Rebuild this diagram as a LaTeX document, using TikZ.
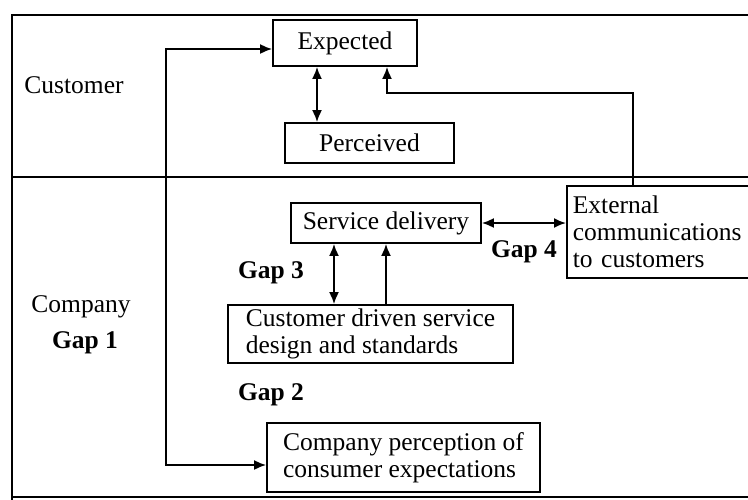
\documentclass[tikz,border=0pt]{standalone}
\usepackage{fontspec}
\setmainfont{Liberation Serif}
\usetikzlibrary{arrows.meta}

\begin{document}
\begin{tikzpicture}[x=1pt,y=1pt,yscale=-1,xscale=1,
    box/.style={draw,line width=1.8,inner sep=0pt,font=\fontsize{25.5}{27}\selectfont},
    lbl/.style={inner sep=0.75pt,font=\fontsize{25.5}{27}\selectfont},
    gaplbl/.style={inner sep=0.75pt,font=\fontsize{25.5}{27}\selectfont\bfseries},
    arr/.style={line width=1.8,-{Latex[length=12pt,width=10pt]}},
    dbl/.style={line width=1.8,{Latex[length=12pt,width=10pt]}-{Latex[length=12pt,width=10pt]}}]
    \clip (0,0) rectangle (748,499);

    %Frame and divider
    \draw [line width=1.8] (12,505) -- (12,15) -- (760,15) ;
    \draw [line width=1.8] (12,177) -- (760,177) ;
    \draw [line width=1.2] (12,497) -- (760,497) ;

    %Boxes
    \node [box,minimum width=144,minimum height=46] (exp) at (345,43) {Expected};
    \node [box,minimum width=169,minimum height=40] (per) at (369.5,143) {Perceived};
    \node [box,minimum width=190,minimum height=40] (svc) at (386,223) {Service delivery};
    \node [box,minimum width=285,minimum height=58,align=left] (cds) at (370.5,334) {Customer driven service\\design and standards};
    \node [box,minimum width=273,minimum height=69,align=left] (cpc) at (403.5,457.5) {Company perception of\\consumer expectations};
    \node [box,anchor=north west,minimum width=240,minimum height=92,align=left,text width=230,inner sep=6pt] (ext) at (566,185) {External\\communications\\to customers};

    %Turning points
    \coordinate (extup) at (633,93);
    \coordinate (expin) at (387,93);
    \coordinate (lt) at (166,49);
    \coordinate (lb) at (166,465);
    \coordinate (gthree) at (334,0);
    \coordinate (sup) at (386,0);

    %Connectors
    \draw [dbl] (exp.south -| 317,0) -- (per.north -| 317,0) ;
    \draw [arr] (ext.north -| extup) -- (extup) -- (expin) -- (exp.south -| expin) ;
    \draw [dbl] (exp.west |- lt) -- (lt) -- (lb) -- (cpc.west |- lb) ;
    \draw [dbl] (svc.south -| gthree) -- (cds.north -| gthree) ;
    \draw [arr] (cds.north -| sup) -- (svc.south -| sup) ;
    \draw [dbl] (svc.east) -- (ext.west |- svc.east) ;

    % Text Node
    \node [lbl] (cust) at (74,85) {Customer};
    % Text Node
    \node [lbl] (comp) at (81,307) {Company};
    % Text Node
    \node [gaplbl] (gapone) at (85,343) {Gap 1};
    % Text Node
    \node [gaplbl] (gaptwo) at (271,395) {Gap 2};
    % Text Node
    \node [gaplbl] (gapthree) at (271,273) {Gap 3};
    % Text Node
    \node [gaplbl] (gapfour) at (524,252) {Gap 4};
\end{tikzpicture}
\end{document}
